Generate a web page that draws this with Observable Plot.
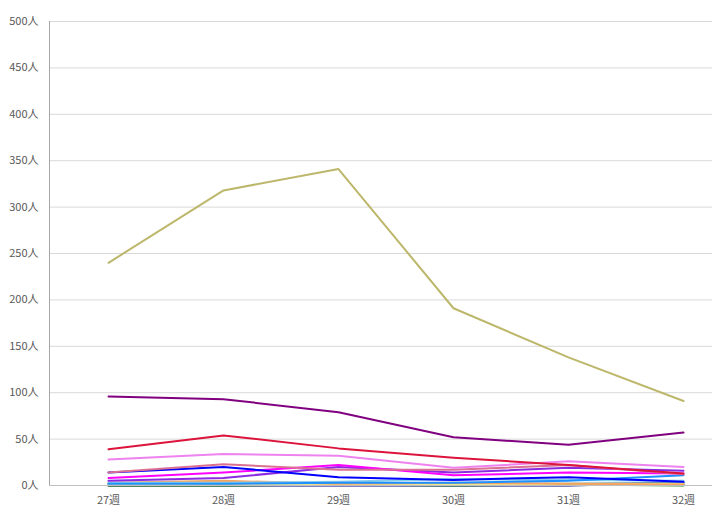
<!DOCTYPE html>
<html>
<head>
<meta charset="utf-8">
<script src="https://cdn.jsdelivr.net/npm/d3@7"></script>
<script src="https://cdn.jsdelivr.net/npm/@observablehq/plot@0.6"></script>
<style>
  html, body { margin: 0; padding: 0; background: #fff; overflow: hidden; }
  #chart svg { display: block; }
</style>
</head>
<body>
<div id="chart"></div>
<script>
const weeks = ["27週", "28週", "29週", "30週", "31週", "32週"];
const yTicks = [0, 50, 100, 150, 200, 250, 300, 350, 400, 450, 500];

const seriesNames = [
  "s01", "s02", "s03", "s04", "s05", "s06", "s07", "s08", "s09",
  "s10", "s11", "s12", "s13", "s14", "s15", "s16", "s17", "s18"
];
const seriesColors = [
  "#BDB76B", "#800080", "#DC143C", "#EE82EE", "#DB7093", "#0000FF",
  "#FF00FF", "#8A2BE2", "#1E90FF", "#87CEEB", "#F4A460", "#F0E68C",
  "#228B22", "#808080", "#4682B4", "#5F9EA0", "#000080", "#66CDAA"
];
const s01 = [240, 318, 341, 191, 138, 91];
const s02 = [96, 93, 79, 52, 44, 57];
const s03 = [39, 54, 40, 30, 22, 13];
const s04 = [28, 34, 32, 19, 26, 20];
const s05 = [14, 23, 17, 17, 22, 12];
const s06 = [14, 20, 9, 6, 9, 4];
const s07 = [8, 14, 22, 11, 14, 13];
const s08 = [5, 8, 20, 14, 19, 16];
const s09 = [2, 2, 3, 3, 5, 11];
const s10 = [3, 3, 4, 7, 6, 5];
const s11 = [3, 5, 2, 3, 2, 1];
const s12 = [1, 2, 1, 1, 2, 2];
const s13 = [0, 0, 1, 0, 1, 0];
const s14 = [0, 0, 1, 1, 1, 1];
const s15 = [1, 1, 2, 2, 2, 3];
const s16 = [2, 1, 1, 1, 1, 1];
const s17 = [0, 0, 0, 0, 0, 3];
const s18 = [2, 2, 2, 1, 1, 1];
const seriesValues = [s01, s02, s03, s04, s05, s06, s07, s08, s09, s10, s11, s12, s13, s14, s15, s16, s17, s18];

// Build long-form table (draw lowest series first so big ones sit on top)
const rows = [];
for (let i = seriesNames.length - 1; i >= 0; i--) {
  seriesValues[i].forEach((v, j) => rows.push({series: seriesNames[i], week: weeks[j], value: v}));
}

const chart = Plot.plot({
  width: 714,
  height: 526,
  marginTop: 21,
  marginBottom: 41,
  marginLeft: 49,
  marginRight: 2,
  style: {fontFamily: "'Noto Sans CJK JP', 'Noto Sans', sans-serif", fontSize: "11px", color: "#595959", background: "#fff"},
  x: {type: "point", domain: weeks, range: [107, 684], padding: 0},
  y: {domain: [0, 500]},
  color: {domain: seriesNames, range: seriesColors},
  marks: [
    Plot.gridY(yTicks, {stroke: "#d9d9d9", strokeOpacity: 1, strokeWidth: 1}),
    Plot.axisY(yTicks, {tickSize: 0, tickPadding: 11, tickFormat: d => d + "人", label: null, fill: "#595959"}),
    Plot.axisX(weeks, {tickSize: 0, tickPadding: 11, label: null, fill: "#595959"}),
    Plot.lineY(rows, {x: "week", y: "value", z: "series", stroke: "series", strokeWidth: 2}),
    Plot.ruleY([0], {stroke: "#bfbfbf", strokeWidth: 1}),
  ]
});

// left axis line
const svg = d3.select(chart);
svg.append("line")
  .attr("x1", 49.5).attr("x2", 49.5)
  .attr("y1", 21).attr("y2", 485)
  .attr("stroke", "#a6a6a6").attr("stroke-width", 1);

document.getElementById("chart").appendChild(chart);
</script>
</body>
</html>
